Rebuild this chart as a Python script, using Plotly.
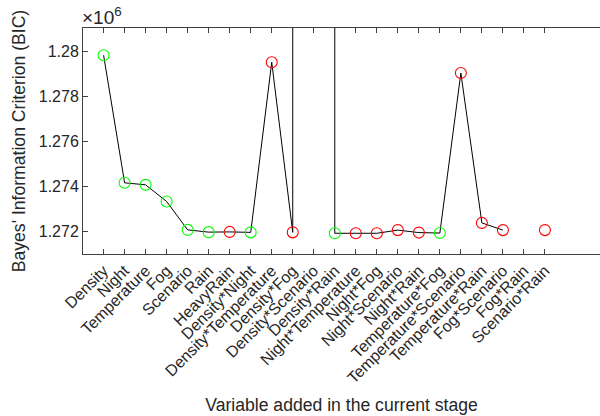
import plotly.graph_objects as go

variables = ["Density", "Night", "Temperature", "Fog", "Scenario", "Rain", "HeavyRain",
             "Density*Night", "Density*Temperature", "Density*Fog", "Density*Scenario",
             "Density*Rain", "Night*Temperature", "Night*Fog", "Night*Scenario", "Night*Rain",
             "Temperature*Fog", "Temperature*Scenario", "Temperature*Rain", "Fog*Scenario",
             "Fog*Rain", "Scenario*Rain"]

# BIC values (x10^6); Density*Scenario is far off the chart, Fog*Rain is missing
bic = [1.27982, 1.27416, 1.27407, 1.27333, 1.27207, 1.27197, 1.27198,
       1.27196, 1.27951, 1.27196, 50.0,
       1.27192, 1.27192, 1.27192, 1.27206, 1.27195,
       1.27193, 1.27903, 1.27238, 1.27206,
       None, 1.27206]

# whether the term was accepted (green) or rejected (red)
accepted = [True, True, True, True, True, True, False,
            True, False, False, None,
            True, False, False, False, False,
            True, False, False, False,
            None, False]

y_ticks = [1.272, 1.274, 1.276, 1.278, 1.28]
y_ticklabels = ["1.272", "1.274", "1.276", "1.278", "1.28"]

xs = list(range(len(variables)))
FONT = "Liberation Sans, Arial, Helvetica, sans-serif"
TXT = "#262626"
AX = "#404040"

fig = go.Figure()
fig.add_trace(go.Scatter(x=xs, y=bic, mode="lines",
                         line=dict(color="black", width=1), connectgaps=False,
                         hoverinfo="skip", showlegend=False))

mx = [x for x, a in zip(xs, accepted) if a is not None]
my = [b for b, a in zip(bic, accepted) if a is not None]
mc = ["#00ff00" if a else "#ff0000" for a in accepted if a is not None]
fig.add_trace(go.Scatter(x=mx, y=my, mode="markers",
                         marker=dict(symbol="circle-open", size=11, color=mc,
                                     line=dict(width=1.1, color=mc)),
                         showlegend=False))

fig.update_layout(
    width=600, height=416,
    margin=dict(l=83, r=0, t=28, b=162),
    plot_bgcolor="white", paper_bgcolor="white",
    font=dict(family=FONT, size=16, color=TXT),
    xaxis=dict(range=[-0.98, 23.62], tickmode="array", tickvals=xs, ticktext=variables,
               tickangle=-45, ticks="inside", ticklen=5, tickcolor=AX,
               showline=True, linecolor=AX, linewidth=1, mirror="ticks",
               showgrid=False, zeroline=False,
               tickfont=dict(size=16, color=TXT),
               title=dict(text="Variable added in the current stage",
                          font=dict(size=17.6, color=TXT), standoff=13)),
    yaxis=dict(range=[1.271, 1.28103], tickmode="array", tickvals=y_ticks,
               ticktext=y_ticklabels, ticks="inside", ticklen=5, tickcolor=AX,
               showline=True, linecolor=AX, linewidth=1, mirror=False,
               showgrid=False, zeroline=False,
               tickfont=dict(size=16, color=TXT),
               title=dict(text="Bayes' Information Criterion (BIC)",
                          font=dict(size=17.6, color=TXT), standoff=8)),
    annotations=[dict(text="×10<sup>6</sup>", xref="paper", yref="paper",
                      x=0, y=1, xanchor="left", yanchor="bottom", showarrow=False,
                      font=dict(size=19, color=TXT), xshift=-3, yshift=-2)],
)

fig.write_html("out.html")
